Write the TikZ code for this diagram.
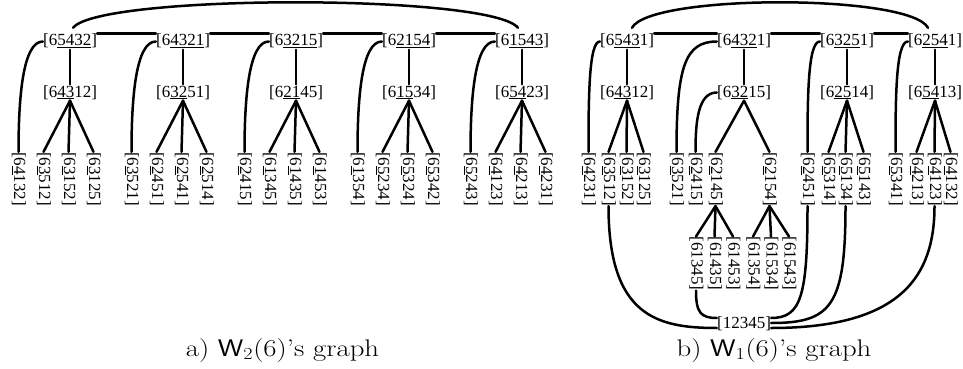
\documentclass[tikz,border=0pt]{standalone}
\usepackage{fontspec}
\newfontfamily\labfont{Liberation Serif}
\newcommand\uln[1]{\underline{#1}}
\tikzset{
  lab/.style={font=\labfont\fontsize{17}{17}\selectfont, inner sep=0pt, text height=12.5pt, text depth=3.5pt},
  leaf/.style={lab, rotate=-90},
  con/.style={line width=2.5pt, line cap=round},
  capt/.style={font=\fontsize{24}{26}\selectfont, anchor=base, inner sep=0pt}
}
\begin{document}
\begin{tikzpicture}[x=1pt,y=1pt]
\useasboundingbox (0,0) rectangle (963,-369);
% ---------------- left graph ----------------
\node[lab] (a1) at (70,-41.5)  {[6\uln{5432}]};
\node[lab] (a2) at (183,-41.5) {[6\uln{4321}]};
\node[lab] (a3) at (296,-41.5) {[6\uln{3215}]};
\node[lab] (a4) at (409,-41.5) {[6\uln{2154}]};
\node[lab] (a5) at (522,-41.5) {[6\uln{1543}]};
\node[lab] (b1) at (70,-92.5)  {[6\uln{43}12]};
\node[lab] (b2) at (183,-92.5) {[6\uln{32}51]};
\node[lab] (b3) at (296,-92.5) {[6\uln{21}45]};
\node[lab] (b4) at (409,-92.5) {[6\uln{15}34]};
\node[lab] (b5) at (522,-92.5) {[6\uln{54}23]};
% leaves
\node[leaf] (l11) at (18.5,-179)  {[6\uln{4}132]};
\node[leaf] (l12) at (43.5,-179)  {[6\uln{3}512]};
\node[leaf] (l13) at (68.5,-179)  {[6\uln{3}152]};
\node[leaf] (l14) at (93.5,-179)  {[6\uln{3}125]};
\node[leaf] (l21) at (131.5,-179) {[6\uln{3}521]};
\node[leaf] (l22) at (156.5,-179) {[6\uln{2}451]};
\node[leaf] (l23) at (181.5,-179) {[6\uln{2}541]};
\node[leaf] (l24) at (206.5,-179) {[6\uln{2}514]};
\node[leaf] (l31) at (244.5,-179) {[6\uln{2}415]};
\node[leaf] (l32) at (269.5,-179) {[6\uln{1}345]};
\node[leaf] (l33) at (294.5,-179) {[6\uln{1}435]};
\node[leaf] (l34) at (319.5,-179) {[6\uln{1}453]};
\node[leaf] (l41) at (357.5,-179) {[6\uln{1}354]};
\node[leaf] (l42) at (382.5,-179) {[6\uln{5}234]};
\node[leaf] (l43) at (407.5,-179) {[6\uln{5}324]};
\node[leaf] (l44) at (432.5,-179) {[6\uln{5}342]};
\node[leaf] (l51) at (470.5,-179) {[6\uln{5}243]};
\node[leaf] (l52) at (495.5,-179) {[6\uln{4}123]};
\node[leaf] (l53) at (520.5,-179) {[6\uln{4}213]};
\node[leaf] (l54) at (545.5,-179) {[6\uln{4}231]};
% connectors
\draw[con] ([xshift=3pt,yshift=5.5pt]a1.north) .. controls +(27,34) and +(-27,34) .. ([xshift=-4pt,yshift=5.5pt]a5.north);
\foreach \u/\v in {a1/a2,a2/a3,a3/a4,a4/a5} \draw[con] (\u.north east) -- (\v.north west);
\foreach \i in {1,...,5}{
  \draw[con] (a\i.south) -- (b\i.north);
  \draw[con] (b\i.south) -- (l\i2.west);
  \draw[con] (b\i.south) -- (l\i3.west);
  \draw[con] (b\i.south) -- (l\i4.west);
  \draw[con] (a\i.west) .. controls +(-20,0) and +(0,55) .. (l\i1.west);
}
% ---------------- right graph ----------------
\node[lab] (c1) at (627,-41.5) {[6\uln{543}1]};
\node[lab] (c2) at (744,-41.5) {[6\uln{432}1]};
\node[lab] (c3) at (847,-41.5) {[6\uln{325}1]};
\node[lab] (c4) at (935,-41.5) {[6\uln{254}1]};
\node[lab] (d1) at (627,-92.5) {[6\uln{43}12]};
\node[lab] (d2) at (744,-92.5) {[6\uln{32}15]};
\node[lab] (d3) at (847,-92.5) {[6\uln{25}14]};
\node[lab] (d4) at (935,-92.5) {[6\uln{54}13]};
\node[leaf] (r1)  at (588.5,-179) {[6\uln{4}231]};
\node[leaf] (r2)  at (608.5,-179) {[6\uln{3}512]};
\node[leaf] (r3)  at (626.5,-179) {[6\uln{3}152]};
\node[leaf] (r4)  at (643.5,-179) {[6\uln{3}125]};
\node[leaf] (r5)  at (676.5,-179) {[6\uln{3}521]};
\node[leaf] (r6)  at (695.5,-179) {[6\uln{2}415]};
\node[leaf] (r7)  at (715.5,-179) {[6\uln{2}145]};
\node[leaf] (r8)  at (769.5,-179) {[6\uln{2}154]};
\node[leaf] (r9)  at (807.5,-179) {[6\uln{2}451]};
\node[leaf] (r10) at (828.5,-179) {[6\uln{5}314]};
\node[leaf] (r11) at (845.5,-179) {[6\uln{5}134]};
\node[leaf] (r12) at (863.5,-179) {[6\uln{5}143]};
\node[leaf] (r13) at (895.5,-179) {[6\uln{5}341]};
\node[leaf] (r14) at (916.5,-179) {[6\uln{4}213]};
\node[leaf] (r15) at (934.5,-179) {[6\uln{4}123]};
\node[leaf] (r16) at (950.5,-179) {[6\uln{4}132]};
\node[leaf] (s1) at (696,-263.6)   {[61345]};
\node[leaf] (s2) at (714.5,-263.6) {[61435]};
\node[leaf] (s3) at (733,-263.6)   {[61453]};
\node[leaf] (s4) at (753,-263.6)   {[61354]};
\node[leaf] (s5) at (771,-263.6)   {[61534]};
\node[leaf] (s6) at (789,-263.6)   {[61543]};
\node[lab] (z) at (744,-324) {[12345]};
% connectors
\draw[con] ([xshift=5pt,yshift=5.5pt]c1.north) .. controls +(18,34) and +(-18,34) .. ([xshift=-7pt,yshift=5.5pt]c4.north);
\foreach \u/\v in {c1/c2,c2/c3,c3/c4} \draw[con] (\u.north east) -- (\v.north west);
\foreach \i in {1,...,4} \draw[con] (c\i.south) -- (d\i.north);
\foreach \v in {r2,r3,r4} \draw[con] (d1.south) -- (\v.west);
\foreach \v in {r7,r8} \draw[con] (d2.south) -- (\v.west);
\foreach \v in {r10,r11,r12} \draw[con] (d3.south) -- (\v.west);
\foreach \v in {r14,r15,r16} \draw[con] (d4.south) -- (\v.west);
\foreach \v in {s1,s2,s3} \draw[con] (r7.east) -- (\v.west);
\foreach \v in {s4,s5,s6} \draw[con] (r8.east) -- (\v.west);
\draw[con] (c1.west) .. controls +(-11,0) and +(0,55) .. (r1.west);
\draw[con] (c2.west) .. controls +(-32,0) and +(0,85) .. (r5.west);
\draw[con] (d2.west) .. controls +(-19,0) and +(0,30) .. (r6.west);
\draw[con] (c3.west) .. controls +(-12,0) and +(0,55) .. (r9.west);
\draw[con] (c4.west) .. controls +(-12,0) and +(0,55) .. (r13.west);
% to [12345]
\draw[con] (s1.east) .. controls +(0,-22) and +(-16,0) .. ([yshift=6pt]z.west);
\draw[con] (r2.east) .. controls +(0,-110) and +(-60,0) .. ([yshift=-4pt]z.west);
\draw[con] ([yshift=6pt]z.east) .. controls +(30,0) and +(0,-90) .. (r9.east);
\draw[con] ([yshift=1pt]z.east) .. controls +(60,0) and +(0,-100) .. (r11.east);
\draw[con] ([yshift=-4pt]z.east) .. controls +(130,0) and +(0,-70) .. (r15.east);
% captions
\node[capt] (capa) at (282.5,-356) {\scalebox{1.2}[1]{a) \textsf{W}\textsubscript{2}(6)’s graph}};
\node[capt] (capb) at (774,-356) {\scalebox{1.2}[1]{b) \textsf{W}\textsubscript{1}(6)’s graph}};
\end{tikzpicture}
\end{document}
